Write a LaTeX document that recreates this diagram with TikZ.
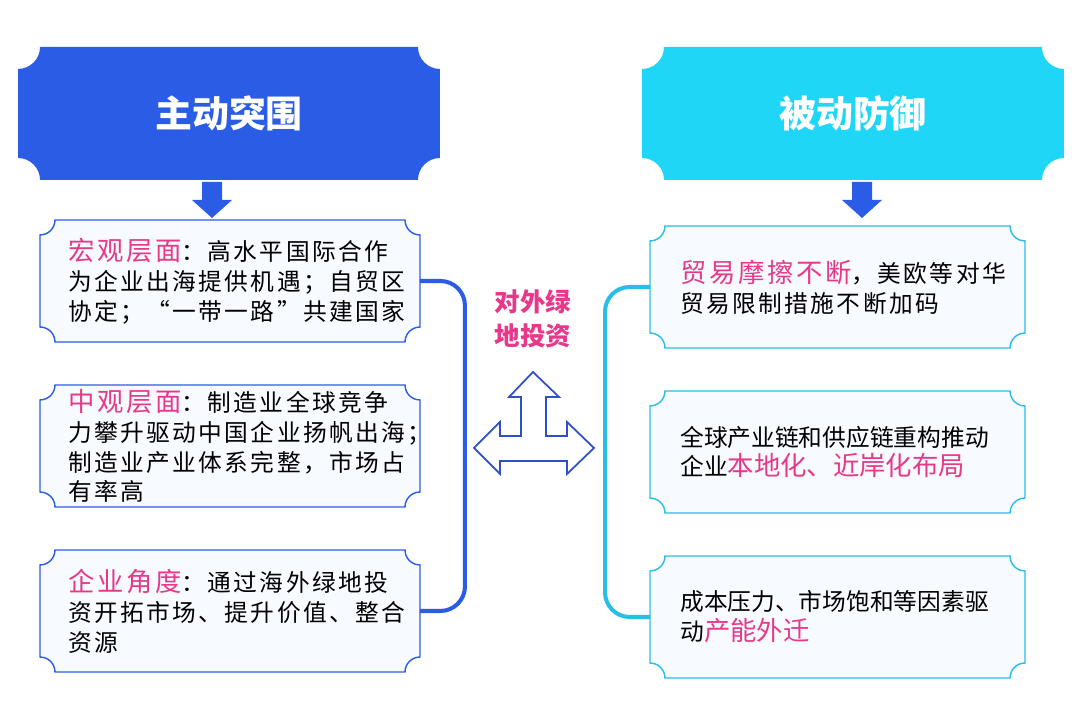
\documentclass[tikz,border=0pt]{standalone}
\usepackage{fontspec}
\newfontfamily\cjk{Noto Sans CJK SC}
\newfontfamily\cjksp[LetterSpace=10]{Noto Sans CJK SC}
\usetikzlibrary{calc,positioning}
\definecolor{leftblue}{RGB}{43,92,230}
\definecolor{rightcyan}{RGB}{31,214,247}
\definecolor{cyanline}{RGB}{40,190,232}
\definecolor{boxfill}{RGB}{247,250,255}
\definecolor{hotpink}{RGB}{232,56,138}
\definecolor{arrowblue}{RGB}{46,79,199}
\newcommand{\hl}[1]{{\fontsize{15pt}{17pt}\selectfont\color{hotpink}#1}}
% concave-corner outline around a node: style, node, radius
\newcommand\scallop[3]{%
  \path[#1] let \p1=(#2.south west), \p2=(#2.north east) in
    (\x2-#3,\y2) arc[start angle=180,end angle=270,radius=#3]
    -- (\x2,\y1+#3) arc[start angle=90,end angle=180,radius=#3]
    -- (\x1+#3,\y1) arc[start angle=0,end angle=90,radius=#3]
    -- (\x1,\y2-#3) arc[start angle=270,end angle=360,radius=#3]
    -- cycle;}

\begin{document}
\begin{tikzpicture}[
  x=0.02cm, y=0.02cm,
  frame/.style={inner sep=0pt, outer sep=0pt},
  title/.style={frame, minimum width=8.44cm, minimum height=2.66cm},
  card/.style={frame, minimum width=7.6cm, minimum height=2.44cm},
  txt/.style={inner sep=0pt, anchor=west, align=left, font=\cjk\fontsize{13.5pt}{17pt}\selectfont},
  txtsp/.style={txt, font=\cjksp\fontsize{13.5pt}{17pt}\selectfont},
  headtxt/.style={font=\cjk\bfseries\fontsize{21pt}{24pt}\selectfont, text=white},
  bracket/.style={line width=2.3pt, rounded corners=14pt}
]
\useasboundingbox (0,0) rectangle (1080,719);

% titles
\node[title] (tl) at (229,605.5) {};
\node[title] (tr) at (853,605.5) {};
\scallop{fill=leftblue}{tl}{12.5pt}
\scallop{fill=rightcyan}{tr}{12.5pt}
\node[headtxt] (tlt) at (tl) {主动突围};
\node[headtxt] (trt) at (tr) {被动防御};

% left cards
\node[card] (lb1) at (230,438) {};
\node[card] (lb2) at (230,273) {};
\node[card] (lb3) at (230,108) {};
% right cards
\node[card, minimum width=7.5cm] (rb1) at (837.5,432) {};
\node[card, minimum width=7.5cm] (rb2) at (837.5,267) {};
\node[card, minimum width=7.5cm] (rb3) at (837.5,102) {};

\foreach \b in {lb1,lb2,lb3}{
  \scallop{draw=leftblue, line width=0.8pt, fill=boxfill}{\b}{8.5pt}
}
\foreach \b in {rb1,rb2,rb3}{
  \scallop{draw=cyanline, line width=0.8pt, fill=boxfill}{\b}{8.5pt}
}

% down arrows
\node[frame] (dl) at (212,519) {};
\node[frame] (dr) at (862,519) {};
\fill[leftblue] (dl) ++(-10,18) -- ++(0,-18) -- ++(-10,0) -- ++(20,-18) -- ++(20,18) -- ++(-10,0) -- ++(0,18) -- cycle;
\fill[leftblue] (dr) ++(-10,18) -- ++(0,-18) -- ++(-10,0) -- ++(20,-18) -- ++(20,18) -- ++(-10,0) -- ++(0,18) -- cycle;

% card texts
\node[txtsp] (lt1) at ([xshift=28*0.02cm]lb1.west) {\hl{宏观层面}：高水平国际合作\\为企业出海提供机遇；自贸区\\协定；“一带一路”共建国家};
\node[txtsp] (lt2) at ([xshift=28*0.02cm]lb2.west) {\hl{中观层面}：制造业全球竞争\\力攀升驱动中国企业扬帆出海；\\制造业产业体系完整，市场占\\有率高};
\node[txtsp] (lt3) at ([xshift=28*0.02cm]lb3.west) {\hl{企业角度}：通过海外绿地投\\资开拓市场、提升价值、整合\\资源};
\node[txtsp] (rt1) at ([xshift=30*0.02cm]rb1.west) {\hl{贸易摩擦不断}，美欧等对华\\贸易限制措施不断加码};
\node[txt] (rt2) at ([xshift=30*0.02cm]rb2.west) {全球产业链和供应链重构推动\\企业\hl{本地化、近岸化布局}};
\node[txt] (rt3) at ([xshift=30*0.02cm]rb3.west) {成本压力、市场饱和等因素驱\\动\hl{产能外迁}};

% brackets
\draw[bracket, leftblue] (lb1.east) -- ++(45,0) |- (lb3.east);
\draw[bracket, cyanline] (rb1.west) -- ++(-45,0) |- (rb3.west);

% centre
\node[font=\cjk\bfseries\fontsize{14.5pt}{19pt}\selectfont, text=hotpink, align=center] (fdi) at (533,400) {对外绿\\地投资};
\node[frame] (hub) at (533,271) {};
\draw[arrowblue, line width=1pt, line join=miter]
  (hub) ++(0,76) -- ++(26,-25) -- ++(-13,0) -- ++(0,-39) -- ++(21,0) -- ++(0,14)
  -- ++(27,-26) -- ++(-27,-26) -- ++(0,13) -- ++(-67,0) -- ++(0,-13) -- ++(-26,26)
  -- ++(26,26) -- ++(0,-14) -- ++(21,0) -- ++(0,39) -- ++(-12,0) -- cycle;
\end{tikzpicture}
\end{document}
